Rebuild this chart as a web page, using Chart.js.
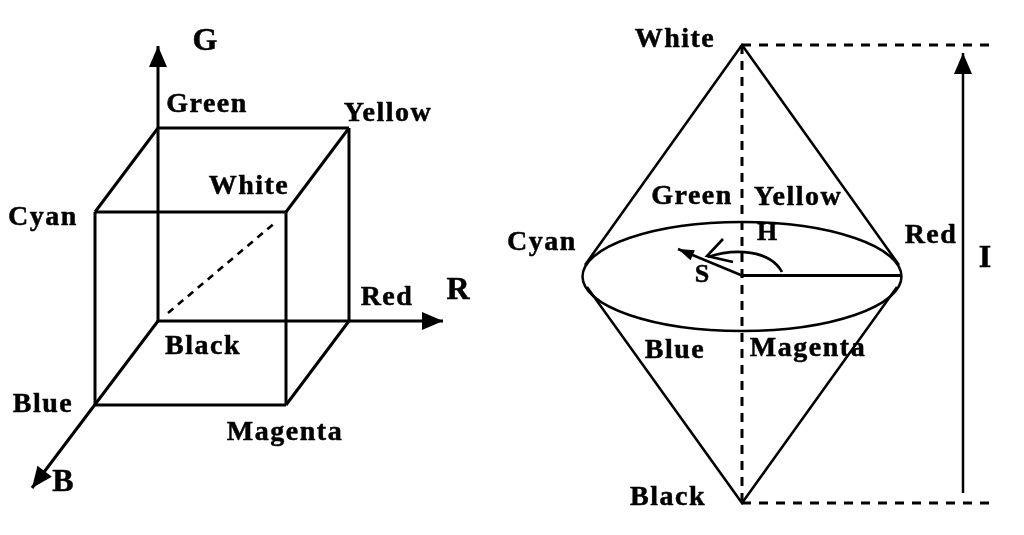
<!DOCTYPE html>
<html>
<head>
<meta charset="utf-8">
<script src="https://cdn.jsdelivr.net/npm/chart.js@4.4.1/dist/chart.umd.min.js"></script>
<style>
html,body{margin:0;padding:0;background:#fff;}
#wrap{width:1024px;height:535px;position:relative;}
</style>
</head>
<body>
<div id="wrap"><canvas id="c"></canvas></div>
<script>
// ---------- RGB cube (left) ----------
const cubeNames = ['Black','Green','Yellow','Red','Cyan','White','Blue','Magenta'];
const cubeX = [158, 158, 349, 349, 95, 286, 95, 286];
const cubeY = [321, 128, 128, 321, 212, 212, 405, 405];
const cubeEdges = [
  ['Green','Yellow'],['Yellow','Red'],['Cyan','White'],['White','Magenta'],
  ['Magenta','Blue'],['Blue','Cyan'],['Cyan','Green'],['White','Yellow'],['Magenta','Red']
];
const axisNames = ['G','R','B'];
const axisTipX = [158, 443, 32];
const axisTipY = [46, 321, 488];
const cubeDiagX = [168, 277];
const cubeDiagY = [313, 221];

const cubeLabelText = ['G','Green','Yellow','White','Cyan','R','Red','Black','Blue','Magenta','B'];
const cubeLabelX = [205, 207, 388, 249, 43, 458, 387, 203, 43, 285, 63];
const cubeLabelY = [41, 104, 113, 186, 217, 290, 297, 346, 404, 432, 482];

// ---------- HSI double cone (right) ----------
const coneApexX = [742, 742];           // White, Black
const coneApexY = [45, 503];
const coneRimX = [585, 899, 587, 897];  // upper-left, upper-right, lower-left, lower-right
const coneRimY = [265, 265, 287, 287];
const ellipseCenter = [742, 276.5];
const ellipseRadii = [159.5, 54.5];
const guideX = [742, 990];              // dashed horizontal guides
const intensityArrowX = 963;
const intensityArrowY = [493, 53];
const satTip = [678, 249];
const hueArcX = [782, 770, 735, 708];
const hueArcY = [272, 250, 248, 257];

const coneLabelText = ['White','Green','Yellow','Cyan','Red','Blue','Magenta','Black','I','H','S'];
const coneLabelX = [675, 692, 798, 542, 931, 675, 808, 668, 985, 767, 702];
const coneLabelY = [39, 196, 197, 242, 235, 350, 348, 497, 258, 232, 274];

// ---------- build datasets ----------
function pt(name){ const i = cubeNames.indexOf(name); return {x: cubeX[i], y: cubeY[i]}; }
const solid = {borderColor:'#000', borderWidth:3, pointRadius:0, showLine:true, fill:false, tension:0};
const datasets = [];
cubeEdges.forEach(e => datasets.push(Object.assign({data:[pt(e[0]), pt(e[1])]}, solid)));
axisNames.forEach((n,i) => datasets.push(Object.assign({data:[pt('Black'), {x:axisTipX[i], y:axisTipY[i]}]}, solid)));
datasets.push(Object.assign({}, solid, {data:[{x:cubeDiagX[0],y:cubeDiagY[0]},{x:cubeDiagX[1],y:cubeDiagY[1]}], borderDash:[7,6], borderWidth:2.6}));
// cone sides
const coneSolid = Object.assign({}, solid, {borderWidth:2.5});
datasets.push(Object.assign({}, coneSolid, {data:[{x:coneRimX[0],y:coneRimY[0]},{x:coneApexX[0],y:coneApexY[0]},{x:coneRimX[1],y:coneRimY[1]}]}));
datasets.push(Object.assign({}, coneSolid, {data:[{x:coneRimX[2],y:coneRimY[2]},{x:coneApexX[1],y:coneApexY[1]},{x:coneRimX[3],y:coneRimY[3]}]}));
// central dashed axis
datasets.push(Object.assign({}, coneSolid, {data:[{x:coneApexX[0],y:coneApexY[0]},{x:coneApexX[1],y:coneApexY[1]}], borderDash:[9,7], borderWidth:3}));
// horizontal dashed guides
datasets.push(Object.assign({}, coneSolid, {data:[{x:guideX[0],y:coneApexY[0]},{x:guideX[1],y:coneApexY[0]}], borderDash:[9,8], borderWidth:3}));
datasets.push(Object.assign({}, coneSolid, {data:[{x:guideX[0],y:coneApexY[1]},{x:guideX[1],y:coneApexY[1]}], borderDash:[9,8], borderWidth:3}));
// intensity arrow shaft
datasets.push(Object.assign({}, coneSolid, {data:[{x:intensityArrowX,y:intensityArrowY[0]},{x:intensityArrowX,y:intensityArrowY[1]}]}));
// radius to red
datasets.push(Object.assign({}, coneSolid, {data:[{x:ellipseCenter[0],y:ellipseCenter[1]-1},{x:coneRimX[1]+2,y:ellipseCenter[1]-1}], borderWidth:3}));
// saturation line
datasets.push(Object.assign({}, coneSolid, {data:[{x:ellipseCenter[0],y:ellipseCenter[1]-1},{x:satTip[0],y:satTip[1]}]}));

// ---------- drawing plugin ----------
const decor = {
  id:'decor',
  afterDatasetsDraw(chart){
    const ctx = chart.ctx, xs = chart.scales.x, ys = chart.scales.y;
    const X = v => xs.getPixelForValue(v), Y = v => ys.getPixelForValue(v);
    ctx.save();
    ctx.strokeStyle = '#000'; ctx.fillStyle = '#000';
    function arrowHead(x0,y0,x1,y1,len,hw){
      const px0=X(x0), py0=Y(y0), px1=X(x1), py1=Y(y1);
      const d = Math.hypot(px1-px0, py1-py0), ux=(px1-px0)/d, uy=(py1-py0)/d;
      const bx = px1-ux*len, by = py1-uy*len;
      ctx.beginPath();
      ctx.moveTo(px1,py1);
      ctx.lineTo(bx-uy*hw, by+ux*hw);
      ctx.lineTo(bx+uy*hw, by-ux*hw);
      ctx.closePath(); ctx.fill();
    }
    const b = pt('Black');
    axisNames.forEach((n,i)=>arrowHead(b.x,b.y,axisTipX[i],axisTipY[i],21,9));
    arrowHead(intensityArrowX,intensityArrowY[0],intensityArrowX,intensityArrowY[1],21,9);
    arrowHead(ellipseCenter[0],ellipseCenter[1],satTip[0],satTip[1],16,5.5);
    // ellipse
    ctx.lineWidth = 2.5;
    ctx.beginPath();
    ctx.ellipse(X(ellipseCenter[0]), Y(ellipseCenter[1]),
      Math.abs(X(ellipseCenter[0]+ellipseRadii[0])-X(ellipseCenter[0])),
      Math.abs(Y(ellipseCenter[1]+ellipseRadii[1])-Y(ellipseCenter[1])), 0, 0, Math.PI*2);
    ctx.stroke();
    // hue arc
    ctx.lineWidth = 2.6;
    ctx.beginPath();
    ctx.moveTo(X(hueArcX[0]),Y(hueArcY[0]));
    ctx.bezierCurveTo(X(hueArcX[1]),Y(hueArcY[1]),X(hueArcX[2]),Y(hueArcY[2]),X(hueArcX[3]),Y(hueArcY[3]));
    ctx.stroke();
    ctx.beginPath();
    ctx.moveTo(X(723),Y(239)); ctx.lineTo(X(707),Y(256)); ctx.lineTo(X(733),Y(262));
    ctx.stroke();
    // labels
    ctx.textAlign='center'; ctx.textBaseline='middle';
    ctx.lineJoin = 'round';
    const big = new Set(['G','R','B','I']);
    function lbl(t,x,y){
      let size = 28, sp = '1.5px';
      if (big.has(t)) { size = 32; sp = '0px'; }
      if (t==='H') { size = 26; sp='0px'; }
      if (t==='S') { size = 26; sp='0px'; }
      ctx.font = 'bold '+size+'px "Liberation Serif", "DejaVu Serif", serif';
      try { ctx.letterSpacing = sp; } catch(e){}
      ctx.lineWidth = 0.5;
      ctx.fillText(t, X(x), Y(y)+1);
      ctx.strokeText(t, X(x), Y(y)+1);
    }
    cubeLabelText.forEach((t,i)=>lbl(t,cubeLabelX[i],cubeLabelY[i]));
    coneLabelText.forEach((t,i)=>lbl(t,coneLabelX[i],coneLabelY[i]));
    ctx.restore();
  }
};

new Chart(document.getElementById('c'), {
  type:'scatter',
  data:{datasets},
  options:{
    responsive:true, maintainAspectRatio:false, animation:false,
    layout:{padding:0},
    plugins:{legend:{display:false}, tooltip:{enabled:false}},
    scales:{
      x:{type:'linear', min:0, max:1024, display:false},
      y:{type:'linear', min:0, max:535, reverse:true, display:false}
    }
  },
  plugins:[decor]
});
</script>
</body>
</html>
